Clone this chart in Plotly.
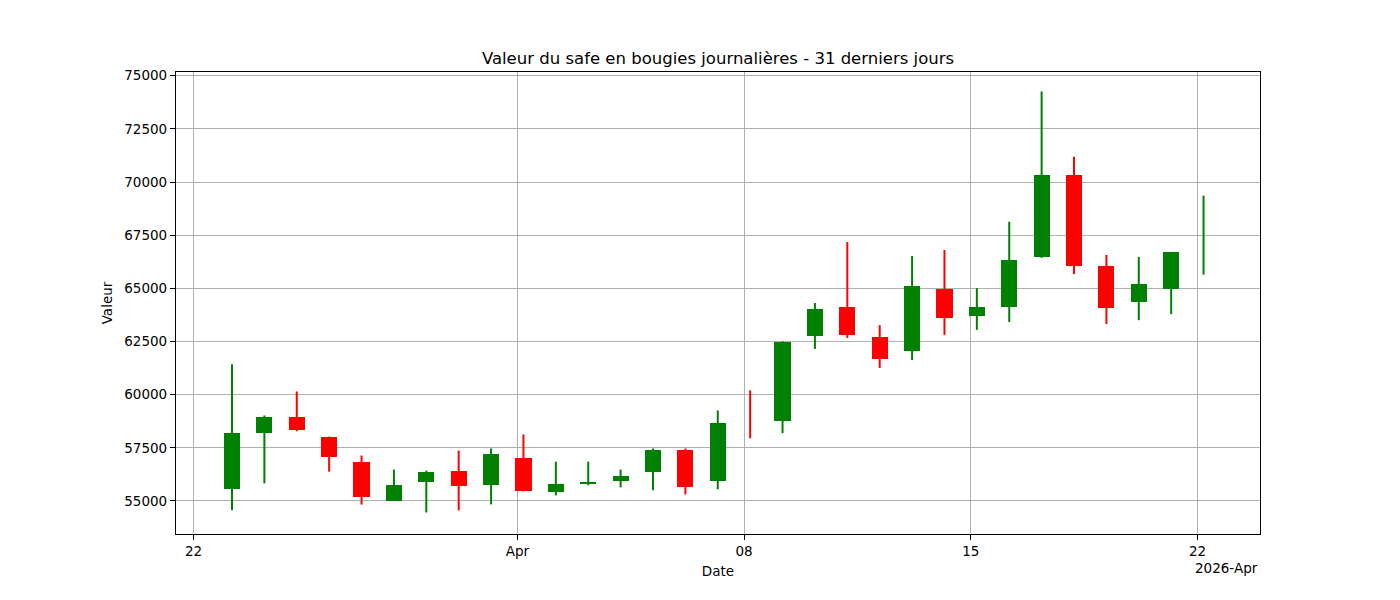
import plotly.graph_objects as go

dates = ["2026-03-23", "2026-03-24", "2026-03-25", "2026-03-26", "2026-03-27", "2026-03-28",
         "2026-03-29", "2026-03-30", "2026-03-31", "2026-04-01", "2026-04-02", "2026-04-03",
         "2026-04-04", "2026-04-05", "2026-04-06", "2026-04-07", "2026-04-08", "2026-04-09",
         "2026-04-10", "2026-04-11", "2026-04-12", "2026-04-13", "2026-04-14", "2026-04-15",
         "2026-04-16", "2026-04-17", "2026-04-18", "2026-04-19", "2026-04-20", "2026-04-21",
         "2026-04-22"]
opens = [55550, 58220, 58930, 58030, 56850, 55010, 55880, 56430, 55740, 57040, 55410, 55820,
         55930, 56350, 57420, 55930, 57960, 58760, 62770, 64120, 62700, 62060, 64960, 63710,
         64120, 66490, 70340, 66050, 64350, 64980, 66710]
highs = [61430, 59020, 60150, 58030, 57140, 56480, 56430, 57370, 57470, 58130, 56850, 56850,
         56480, 57470, 57470, 59260, 60200, 62510, 64310, 67180, 63270, 66520, 66800, 65010,
         68130, 74260, 71190, 66570, 66480, 66710, 69360]
lows = [54560, 55830, 58280, 56380, 54830, 55010, 54460, 54560, 54840, 55450, 55260, 55740,
        55640, 55500, 55310, 55550, 57950, 58190, 62150, 62670, 61260, 61630, 62810, 63050,
        63420, 66430, 65670, 63320, 63500, 63790, 65640]
closes = [58220, 58930, 58330, 57060, 55170, 55770, 56380, 55690, 57230, 55450, 55820, 55910,
          56190, 57420, 55640, 58690, 57950, 62470, 64020, 62810, 61680, 65100, 63610, 64100,
          66330, 70340, 66050, 64070, 65210, 66710, 66710]

tick_dates = ["2026-03-22", "2026-04-01", "2026-04-08", "2026-04-15", "2026-04-22"]
tick_labels = ["22", "Apr", "08", "15", "22"]
y_ticks = [55000, 57500, 60000, 62500, 65000, 67500, 70000, 72500, 75000]

TIME = " 04:30"
UP, DOWN = "#008000", "#ff0000"
xs = [d + TIME for d in dates]
up = [c >= o for o, c in zip(opens, closes)]

fig = go.Figure()

# wicks
for flag, col in ((True, UP), (False, DOWN)):
    wx, wy = [], []
    for x, h, l, u in zip(xs, highs, lows, up):
        if u == flag:
            wx += [x, x, None]
            wy += [l, h, None]
    fig.add_trace(go.Scatter(x=wx, y=wy, mode="lines", line=dict(color=col, width=2),
                             showlegend=False, hoverinfo="skip"))

# bodies (sub-pixel bodies are not drawn, as in the reference)
heights = [abs(c - o) for o, c in zip(opens, closes)]
fig.add_trace(go.Bar(
    x=xs,
    base=[min(o, c) for o, c in zip(opens, closes)],
    y=[h if h >= 40 else 0 for h in heights],
    width=[12 * 3600 * 1000] * len(xs),
    marker=dict(color=[UP if u else DOWN for u in up], line=dict(width=0)),
    showlegend=False,
))

font = dict(family="DejaVu Sans", size=13.5, color="black")

L, R, T, B = 168, 148, 64, 74
fig.update_layout(
    width=1400, height=600,
    margin=dict(l=L, r=R, t=T, b=B),
    paper_bgcolor="white", plot_bgcolor="white",
    font=font,
    bargap=0,
    title=dict(text="Valeur du safe en bougies journalières - 31 derniers jours",
               x=(L + 1400 - R) / 2 / 1400, xanchor="center", y=1 - 50 / 600, yanchor="middle",
               font=dict(family="DejaVu Sans", size=16.5, color="black")),
    xaxis=dict(
        type="date",
        range=["2026-03-21 11:00", "2026-04-23 22:20"],
        tickmode="array", tickvals=tick_dates, ticktext=tick_labels,
        showgrid=True, gridcolor="#b0b0b0", gridwidth=1,
        showline=True, linecolor="black", linewidth=1.2, mirror=True,
        ticks="outside", ticklen=5, tickcolor="black", tickwidth=1,
        zeroline=False, layer="above traces",
        title=dict(text="Date", font=font, standoff=8),
    ),
    yaxis=dict(
        range=[53447, 75174],
        tickmode="array", tickvals=y_ticks, ticktext=[str(v) for v in y_ticks],
        showgrid=True, gridcolor="#b0b0b0", gridwidth=1,
        showline=True, linecolor="black", linewidth=1.2, mirror=True,
        ticks="outside", ticklen=5, tickcolor="black", tickwidth=1,
        zeroline=False, layer="above traces",
        title=dict(text="Valeur", font=font, standoff=8),
    ),
)

fig.add_annotation(text="2026-Apr", xref="paper", yref="paper", x=1, y=-34 / 462,
                   xanchor="right", yanchor="middle", showarrow=False, font=font)

fig.write_html("out.html")
